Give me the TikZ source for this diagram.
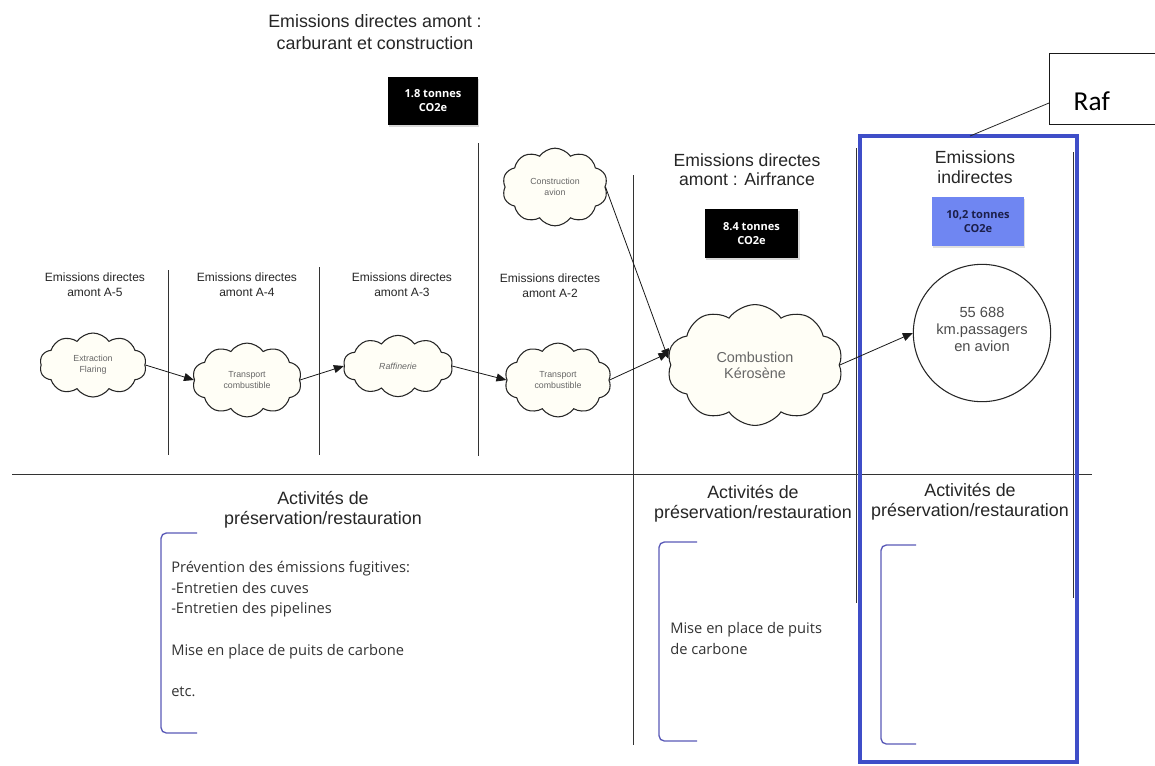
\documentclass[tikz,border=0pt]{standalone}
\usepackage{fontspec}
\setmainfont{Liberation Sans}
\newfontfamily\osans{Open Sans}
\newfontfamily\calib{Carlito}
\usetikzlibrary{shapes.symbols,arrows.meta,shadows}
\definecolor{boxblue}{HTML}{6F86F2}
\definecolor{frameblue}{HTML}{3F4EC8}
\definecolor{brkblue}{HTML}{5A5AB8}
\definecolor{navy}{HTML}{1C1F4A}
\definecolor{cloudfill}{HTML}{FFFEF6}
\begin{document}
\begin{tikzpicture}[x=0.75pt,y=-0.75pt,
  sep/.style={draw=black!80, line width=0.75pt},
  cloudnode/.style={cloud, cloud puffs=10, cloud puff arc=110, draw=black!85, fill=cloudfill,
    line width=0.8pt, align=center, font=\fontsize{6.6}{8.2}\selectfont, text=black!60, inner sep=0pt},
  flow/.style={-{Triangle[length=7.5pt,width=6pt]}, line width=0.6pt, draw=black!90},
  hdr/.style={align=center, text=black!85},
  small/.style={align=center, font=\fontsize{9}{11.25}\selectfont, text=black!85},
  blackbox/.style={fill=black, text=white, font=\osans\bfseries\fontsize{8.3}{10.5}\selectfont,
    align=center, inner sep=0pt, drop shadow={opacity=0.3, shadow xshift=1pt, shadow yshift=-1.5pt}},
  brk/.style={draw=brkblue, line width=1pt, rounded corners=4pt},
  ptext/.style={align=left, font=\osans\fontsize{11}{15.5}\selectfont, text=black!80, inner sep=0pt},
  acthdr/.style={align=center, font=\fontsize{13.4}{15.3}\selectfont, text=black!85}
]
\useasboundingbox (0,0) rectangle (1155,765);
\clip (0,0) rectangle (1155,765);
\fill[white] (0,0) rectangle (1155,765);

% separators
\draw[sep] (12,474) -- (1092,474);
\draw[sep] (168,270) -- (168,455);
\draw[sep] (319,267) -- (319,455);
\draw[sep] (478,143) -- (478,456);
\draw[sep] (633,175) -- (633,745);
\draw[sep] (856,148) -- (856,603);
\draw[sep] (1073,152) -- (1073,598);

% blue frame
\draw[draw=frameblue, line width=2.3pt] (860,136) rectangle (1077,762);
\coordinate (frametop) at (970,136);

% Raf callout
\node[draw=black!90, line width=0.8pt, fill=white, anchor=north west, minimum width=100pt, minimum height=53pt,
  inner sep=0pt] (rafbox) at (1049,53) {};
\node[font=\calib\fontsize{20.5}{24}\selectfont, anchor=base west] (raf) at (1069,110) {Raf};
\draw[black!85, line width=0.6pt] (rafbox.west |- 0,103) -- (frametop);

% headers
\node[hdr, font=\fontsize{13.4}{16.5}\selectfont] (title) at (375,32) {Emissions directes amont :\\carburant et construction};
\node[blackbox, minimum width=67.5pt, minimum height=36pt] (b18) at (433,101) {1.8 tonnes\\CO2e};
\node[hdr, font=\fontsize{13.2}{14.5}\selectfont] (hair) at (747,170) {Emissions directes\\amont : Airfrance};
\node[blackbox, minimum width=70pt, minimum height=37pt] (b84) at (751.5,233.5) {8.4 tonnes\\CO2e};
\node[hdr, font=\fontsize{13.2}{15}\selectfont] (hind) at (975,167) {Emissions\\indirectes};
\node[fill=boxblue, text=navy, font=\osans\bfseries\fontsize{8.3}{10}\selectfont, align=center,
  inner sep=0pt, minimum width=69pt, minimum height=37pt,
  drop shadow={opacity=0.25, shadow xshift=1pt, shadow yshift=-1.5pt}] (b102) at (978,221.5) {10,2 tonnes\\CO2e};

\node[small] (l5) at (95,284.5) {Emissions directes\\amont A-5};
\node[small] (l4) at (247,284.5) {Emissions directes\\amont A-4};
\node[small] (l3) at (402,284.5) {Emissions directes\\amont A-3};
\node[small] (l2) at (550,285.5) {Emissions directes\\amont A-2};

% clouds
\node[cloudnode, minimum width=80pt, minimum height=48pt] (c1) at (93,365) {Extraction\\Flaring};
\node[cloudnode, minimum width=82pt, minimum height=45pt] (c2) at (247,380) {Transport\\combustible};
\node[cloudnode, minimum width=82pt, minimum height=46pt] (c3) at (398,366) {\itshape Raffinerie};
\node[cloudnode, minimum width=79pt, minimum height=48pt] (c4) at (555,187) {Construction\\avion};
\node[cloudnode, minimum width=80pt, minimum height=45pt] (c5) at (558,380) {Transport\\combustible};
\node[cloudnode, minimum width=132pt, minimum height=68pt, font=\fontsize{10.8}{12}\selectfont] (c6) at (755,365) {Combustion\\Kérosène};

% circle
\node[circle, draw=black!85, line width=0.8pt, minimum size=103pt, inner sep=0pt, align=center,
  font=\fontsize{11}{12.75}\selectfont, text=black!70] (pk) at (982,333) {};
\node[align=center, font=\fontsize{11}{12.75}\selectfont, text=black!70, inner sep=0pt] (pktext) at (982,329.5) {55 688\\km.passagers\\en avion};

% flows
\draw[flow] (c1.east) -- (c2.west);
\draw[flow] (c2.east) -- (c3.west);
\draw[flow] (c3.east) -- (c5.west);
\draw[flow] (c5.east) -- (c6.172);
\draw[flow] (c4.east) -- (c6.176);
\draw[flow] (c6.east) -- (pk.west);

% bottom: activities
\node[acthdr] (a1) at (323,510) {Activités de\\préservation/restauration};
\node[acthdr] (a2) at (753,503.5) {Activités de\\préservation/restauration};
\node[acthdr] (a3) at (970,502) {Activités de\\préservation/restauration};

\draw[brk] (197,533) -- (161,533) -- (161,733) -- (197,733);
\draw[brk] (697,542) -- (659,542) -- (659,741) -- (697,741);
\draw[brk] (916,545) -- (881,545) -- (881,744) -- (916,744);

\node[ptext, anchor=north west] (t1) at (171,561) {Prévention des émissions fugitives:\\-Entretien des cuves\\-Entretien des pipelines\\[15.5pt]Mise en place de puits de carbone\\[15.5pt]etc.};
\node[ptext, anchor=north west] (t2) at (670,622) {Mise en place de puits\\de carbone};
\end{tikzpicture}
\end{document}
